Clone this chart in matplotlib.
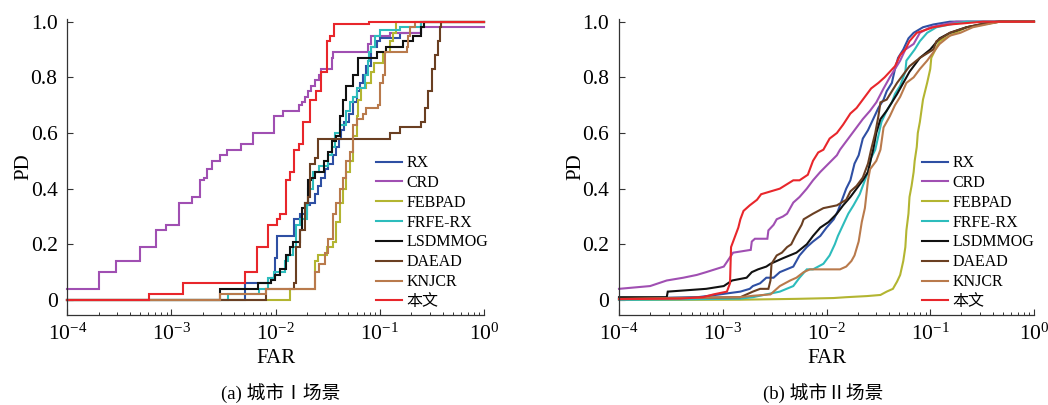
import numpy as np
import matplotlib
matplotlib.use("Agg")
import matplotlib.pyplot as plt
from matplotlib.ticker import LogLocator, LogFormatterMathtext, NullFormatter, FixedLocator

plt.rcParams['font.family'] = ['Liberation Serif', 'Noto Sans CJK SC']
plt.rcParams['mathtext.fontset'] = 'stix'
plt.rcParams['axes.unicode_minus'] = True

# ---- series names, colours ----
names = ['RX', 'CRD', 'FEBPAD', 'FRFE-RX', 'LSDMMOG', 'DAEAD', 'KNJCR', '本文']
colors = ['#2e4fa3', '#a04fb2', '#b3b531', '#2dbcbc', '#111111', '#6a3f22', '#b97a4c', '#e8262b']

# ---- (a) city I : log10(FAR) and PD ----
rx_a_log = [-4, -2.29, -2.04, -2.01, -1.99, -1.82, -1.77, -1.70, -1.67, -1.62, -1.59, -1.56, -1.53, -1.50, -1.45, -1.42, -1.39, -1.37, -1.34, -1.30, -1.26, -1.22, -1.19, -1.16, -1.13, -1.08, -1.03, -1.00, -0.81, -0.60, 0]
rx_a_pd = [0, 0.06, 0.08, 0.15, 0.23, 0.29, 0.31, 0.34, 0.35, 0.38, 0.41, 0.44, 0.47, 0.49, 0.52, 0.55, 0.58, 0.61, 0.64, 0.67, 0.71, 0.75, 0.78, 0.81, 0.84, 0.91, 0.93, 0.94, 0.96, 1.0, 1.0]

crd_a_log = [-4, -3.70, -3.53, -3.30, -3.15, -3.05, -2.93, -2.80, -2.73, -2.69, -2.66, -2.61, -2.53, -2.47, -2.33, -2.22, -2.02, -1.93, -1.78, -1.75, -1.72, -1.69, -1.66, -1.62, -1.58, -1.56, -1.46, -1.45, -1.11, -1.08, -0.90, -0.60, 0]
crd_a_pd = [0.04, 0.10, 0.14, 0.19, 0.25, 0.27, 0.35, 0.37, 0.43, 0.44, 0.47, 0.50, 0.52, 0.54, 0.56, 0.60, 0.66, 0.68, 0.70, 0.71, 0.73, 0.75, 0.77, 0.79, 0.81, 0.83, 0.87, 0.89, 0.92, 0.95, 0.96, 0.98, 0.98]

febpad_a_log = [-4, -1.86, -1.62, -1.59, -1.51, -1.45, -1.42, -1.38, -1.35, -1.32, -1.29, -1.26, -1.22, -1.21, -1.18, -1.13, -1.08, -1.06, -0.97, -0.90, -0.87, -0.84, 0]
febpad_a_pd = [0, 0.04, 0.14, 0.16, 0.19, 0.21, 0.28, 0.35, 0.40, 0.46, 0.50, 0.59, 0.66, 0.72, 0.76, 0.78, 0.82, 0.85, 0.89, 0.93, 0.96, 1.0, 1.0]

frfe_a_log = [-4, -2.46, -2.16, -2.07, -2.02, -1.91, -1.88, -1.83, -1.80, -1.77, -1.70, -1.69, -1.64, -1.58, -1.50, -1.46, -1.43, -1.38, -1.32, -1.29, -1.26, -1.22, -1.14, -1.11, -1.10, -1.08, -1.05, -1.00, -0.81, -0.60, 0]
frfe_a_pd = [0, 0.02, 0.04, 0.08, 0.10, 0.14, 0.16, 0.19, 0.27, 0.29, 0.34, 0.40, 0.46, 0.48, 0.52, 0.55, 0.60, 0.63, 0.68, 0.71, 0.73, 0.76, 0.81, 0.86, 0.89, 0.91, 0.95, 0.97, 0.98, 1.0, 1.0]

lsd_a_log = [-4, -2.53, -2.17, -2.04, -2.01, -1.96, -1.90, -1.86, -1.83, -1.77, -1.75, -1.72, -1.69, -1.66, -1.62, -1.54, -1.50, -1.46, -1.42, -1.38, -1.35, -1.32, -1.26, -1.21, -1.03, -0.94, -0.78, -0.68, -0.60, -0.58, 0]
lsd_a_pd = [0, 0.04, 0.06, 0.07, 0.09, 0.11, 0.16, 0.19, 0.21, 0.25, 0.33, 0.35, 0.43, 0.44, 0.46, 0.50, 0.53, 0.57, 0.59, 0.66, 0.72, 0.77, 0.81, 0.87, 0.89, 0.91, 0.93, 0.95, 0.98, 1.0, 1.0]

daead_a_log = [-4, -2.09, -1.82, -1.80, -1.77, -1.72, -1.69, -1.67, -1.62, -1.59, -0.90, -0.81, -0.60, -0.57, -0.54, -0.50, -0.47, -0.44, -0.42, -0.41, 0]
daead_a_pd = [0, 0.04, 0.06, 0.19, 0.25, 0.35, 0.37, 0.49, 0.51, 0.58, 0.60, 0.62, 0.64, 0.69, 0.75, 0.83, 0.88, 0.93, 0.98, 1.0, 1.0]

knjcr_a_log = [-4, -2.53, -2.09, -1.62, -1.58, -1.53, -1.50, -1.45, -1.42, -1.38, -1.35, -1.32, -1.29, -1.26, -1.22, -1.16, -1.13, -1.02, -1.00, -0.97, -0.95, -0.74, -0.73, -0.71, -0.66, 0]
knjcr_a_pd = [0, 0.02, 0.04, 0.10, 0.13, 0.17, 0.22, 0.31, 0.35, 0.40, 0.44, 0.50, 0.53, 0.63, 0.65, 0.67, 0.69, 0.70, 0.78, 0.81, 0.89, 0.91, 0.95, 0.98, 1.0, 1.0]

ours_a_log = [-4, -3.22, -2.89, -2.29, -2.18, -2.07, -1.99, -1.96, -1.90, -1.86, -1.82, -1.78, -1.74, -1.67, -1.61, -1.56, -1.51, -1.48, -1.44, -1.10, 0]
ours_a_pd = [0, 0.02, 0.06, 0.10, 0.19, 0.27, 0.29, 0.31, 0.43, 0.46, 0.54, 0.56, 0.64, 0.72, 0.75, 0.82, 0.93, 0.95, 0.99, 1.0, 1.0]

# ---- (b) city II : log10(FAR) and PD ----
rx_b_log = [-4, -3.24, -3.03, -2.83, -2.74, -2.71, -2.64, -2.58, -2.51, -2.45, -2.32, -2.26, -2.19, -2.13, -2.06, -2.00, -1.93, -1.89, -1.84, -1.81, -1.77, -1.73, -1.69, -1.65, -1.60, -1.55, -1.50, -1.45, -1.42, -1.37, -1.34, -1.31, -1.26, -1.21, -1.16, -1.07, -0.97, -0.81, 0]
rx_b_pd = [0.005, 0.01, 0.02, 0.03, 0.04, 0.05, 0.06, 0.08, 0.08, 0.10, 0.12, 0.16, 0.19, 0.21, 0.23, 0.26, 0.29, 0.32, 0.37, 0.40, 0.43, 0.49, 0.52, 0.58, 0.61, 0.65, 0.69, 0.72, 0.75, 0.78, 0.83, 0.87, 0.90, 0.94, 0.96, 0.98, 0.99, 1.0, 1.0]

crd_b_log = [-4, -3.70, -3.54, -3.38, -3.25, -3.16, -2.99, -2.90, -2.73, -2.72, -2.69, -2.57, -2.56, -2.51, -2.48, -2.42, -2.38, -2.32, -2.26, -2.19, -2.13, -2.06, -1.98, -1.90, -1.87, -1.77, -1.71, -1.65, -1.58, -1.52, -1.45, -1.39, -1.34, -1.29, -1.24, -1.16, -1.10, -1.00, -0.87, -0.75, 0]
crd_b_pd = [0.04, 0.05, 0.07, 0.08, 0.09, 0.10, 0.12, 0.17, 0.18, 0.21, 0.22, 0.22, 0.25, 0.27, 0.29, 0.30, 0.31, 0.35, 0.37, 0.40, 0.43, 0.46, 0.49, 0.52, 0.54, 0.59, 0.62, 0.65, 0.68, 0.71, 0.76, 0.80, 0.83, 0.86, 0.90, 0.92, 0.96, 0.98, 0.99, 1.0, 1.0]

febpad_b_log = [-4, -2.83, -2.29, -1.93, -1.81, -1.61, -1.48, -1.42, -1.36, -1.32, -1.29, -1.26, -1.24, -1.23, -1.21, -1.20, -1.18, -1.16, -1.15, -1.13, -1.12, -1.10, -1.07, -1.03, -1.00, -0.99, -0.95, -0.91, -0.81, -0.65, -0.49, -0.33, 0]
febpad_b_pd = [0.0, 0.001, 0.004, 0.007, 0.01, 0.014, 0.018, 0.03, 0.04, 0.066, 0.09, 0.14, 0.19, 0.25, 0.31, 0.37, 0.41, 0.46, 0.50, 0.55, 0.60, 0.64, 0.72, 0.78, 0.83, 0.87, 0.90, 0.93, 0.95, 0.98, 0.99, 1.0, 1.0]

frfe_b_log = [-4, -3.40, -2.83, -2.71, -2.58, -2.45, -2.32, -2.26, -2.19, -2.13, -2.03, -1.97, -1.92, -1.89, -1.84, -1.79, -1.74, -1.68, -1.65, -1.60, -1.57, -1.53, -1.50, -1.47, -1.42, -1.37, -1.34, -1.29, -1.24, -1.23, -1.21, -1.15, -1.10, -1.03, -0.94, -0.81, -0.65, 0]
frfe_b_pd = [0.0, 0.002, 0.005, 0.01, 0.02, 0.03, 0.05, 0.08, 0.11, 0.11, 0.13, 0.16, 0.20, 0.23, 0.27, 0.31, 0.34, 0.38, 0.41, 0.46, 0.51, 0.54, 0.59, 0.64, 0.68, 0.71, 0.74, 0.77, 0.82, 0.86, 0.87, 0.90, 0.93, 0.96, 0.98, 0.99, 1.0, 1.0]

lsd_b_log = [-4, -3.54, -3.53, -3.16, -2.99, -2.91, -2.77, -2.72, -2.66, -2.58, -2.54, -2.42, -2.29, -2.19, -2.13, -2.06, -1.98, -1.90, -1.84, -1.77, -1.71, -1.65, -1.60, -1.57, -1.55, -1.52, -1.48, -1.42, -1.37, -1.32, -1.26, -1.20, -1.10, -1.00, -0.91, -0.81, -0.65, -0.52, -0.33, 0]
lsd_b_pd = [0.01, 0.01, 0.03, 0.04, 0.05, 0.07, 0.08, 0.10, 0.11, 0.12, 0.13, 0.15, 0.17, 0.20, 0.23, 0.26, 0.28, 0.31, 0.34, 0.37, 0.40, 0.43, 0.46, 0.51, 0.54, 0.60, 0.65, 0.68, 0.71, 0.74, 0.78, 0.82, 0.87, 0.90, 0.94, 0.96, 0.98, 0.99, 1.0, 1.0]

daead_b_log = [-4, -2.83, -2.77, -2.71, -2.64, -2.56, -2.54, -2.53, -2.48, -2.43, -2.38, -2.34, -2.30, -2.24, -2.22, -2.13, -2.03, -1.90, -1.81, -1.77, -1.71, -1.65, -1.60, -1.57, -1.53, -1.50, -1.48, -1.42, -1.37, -1.32, -1.26, -1.20, -1.10, -0.97, -0.94, -0.81, -0.65, -0.52, -0.36, 0]
daead_b_pd = [0.005, 0.01, 0.02, 0.03, 0.04, 0.04, 0.07, 0.13, 0.16, 0.17, 0.19, 0.20, 0.23, 0.27, 0.29, 0.31, 0.33, 0.34, 0.36, 0.39, 0.41, 0.44, 0.49, 0.54, 0.60, 0.66, 0.71, 0.72, 0.75, 0.78, 0.81, 0.84, 0.87, 0.90, 0.93, 0.96, 0.98, 0.99, 1.0, 1.0]

knjcr_b_log = [-4, -2.83, -2.71, -2.54, -2.45, -2.35, -2.29, -2.22, -2.16, -2.03, -1.87, -1.81, -1.76, -1.73, -1.69, -1.66, -1.63, -1.60, -1.58, -1.52, -1.48, -1.45, -1.39, -1.34, -1.29, -1.23, -1.16, -1.10, -1.03, -0.97, -0.91, -0.81, -0.71, -0.59, -0.46, -0.33, 0]
knjcr_b_pd = [0.003, 0.01, 0.015, 0.02, 0.05, 0.07, 0.08, 0.10, 0.11, 0.11, 0.11, 0.12, 0.14, 0.16, 0.21, 0.28, 0.33, 0.43, 0.47, 0.50, 0.54, 0.62, 0.66, 0.70, 0.73, 0.78, 0.80, 0.83, 0.86, 0.89, 0.92, 0.95, 0.96, 0.98, 0.99, 1.0, 1.0]

ours_b_log = [-4, -3.41, -3.19, -3.09, -2.96, -2.93, -2.92, -2.87, -2.85, -2.83, -2.80, -2.77, -2.74, -2.67, -2.63, -2.54, -2.45, -2.32, -2.26, -2.18, -2.16, -2.13, -2.08, -2.03, -1.97, -1.90, -1.84, -1.77, -1.71, -1.65, -1.57, -1.50, -1.44, -1.39, -1.34, -1.29, -1.24, -1.20, -1.13, -0.97, -0.81, -0.49, 0]
ours_b_pd = [0.003, 0.005, 0.01, 0.02, 0.03, 0.06, 0.19, 0.24, 0.26, 0.29, 0.32, 0.33, 0.34, 0.36, 0.38, 0.39, 0.40, 0.43, 0.43, 0.45, 0.47, 0.50, 0.53, 0.54, 0.58, 0.60, 0.63, 0.67, 0.69, 0.72, 0.76, 0.78, 0.80, 0.82, 0.84, 0.88, 0.90, 0.93, 0.96, 0.98, 0.99, 1.0, 1.0]

yticks = [0, 0.2, 0.4, 0.6, 0.8, 1.0]
ytick_labels = ['0', '0.2', '0.4', '0.6', '0.8', '1.0']
captions = ['(a) 城市Ⅰ场景', '(b) 城市Ⅱ场景']

panel_a = [(rx_a_log, rx_a_pd), (crd_a_log, crd_a_pd), (febpad_a_log, febpad_a_pd),
           (frfe_a_log, frfe_a_pd), (lsd_a_log, lsd_a_pd), (daead_a_log, daead_a_pd),
           (knjcr_a_log, knjcr_a_pd), (ours_a_log, ours_a_pd)]
panel_b = [(rx_b_log, rx_b_pd), (crd_b_log, crd_b_pd), (febpad_b_log, febpad_b_pd),
           (frfe_b_log, frfe_b_pd), (lsd_b_log, lsd_b_pd), (daead_b_log, daead_b_pd),
           (knjcr_b_log, knjcr_b_pd), (ours_b_log, ours_b_pd)]

W, H = 1048, 405
fig = plt.figure(figsize=(W / 100, H / 100), dpi=100)

ax_bottom = 1 - 315 / H
ax_height = (315 - 18.9) / H
ax_a = fig.add_axes([67.3 / W, ax_bottom, (484 - 67.3) / W, ax_height])
ax_b = fig.add_axes([619 / W, ax_bottom, (1034 - 619) / W, ax_height])

legend_x = {ax_a: 0.742, ax_b: 0.730}
caption_x = {ax_a: 281 / W, ax_b: 823 / W}

for ax, series, steps in ((ax_a, panel_a, True), (ax_b, panel_b, False)):
    for (lx, pdv), name, col in zip(series, names, colors):
        far = 10.0 ** np.asarray(lx)
        ax.plot(far, pdv, color=col, lw=1.5, label=name,
                drawstyle='steps-post' if steps else 'default', clip_on=False,
                solid_joinstyle='miter')
    ax.set_xscale('log')
    ax.set_xlim(1e-4, 1)
    ax.set_ylim(-0.054, 1.01)
    ax.xaxis.set_major_locator(FixedLocator([1e-4, 1e-3, 1e-2, 1e-1, 1]))
    ax.xaxis.set_major_formatter(LogFormatterMathtext())
    ax.xaxis.set_minor_locator(LogLocator(base=10, subs=np.arange(2, 10), numticks=20))
    ax.xaxis.set_minor_formatter(NullFormatter())
    ax.set_yticks(yticks)
    ax.set_yticklabels(ytick_labels)
    ax.tick_params(which='major', direction='in', length=4.5, width=0.8, labelsize=15.5,
                   color='#333333')
    ax.tick_params(which='minor', direction='in', length=2.5, width=0.7, color='#333333')
    ax.tick_params(axis='y', which='major', pad=7)
    ax.tick_params(axis='x', which='major', pad=6)
    for s in ('top', 'right'):
        ax.spines[s].set_visible(False)
    for s in ('left', 'bottom'):
        ax.spines[s].set_linewidth(0.9)
        ax.spines[s].set_color('#333333')
    ax.set_xlabel('FAR', fontsize=15, labelpad=3)
    ax.set_ylabel('PD', fontsize=15, labelpad=-2)
    ax.legend(loc='upper left', bbox_to_anchor=(legend_x[ax], 0.54), frameon=False,
              fontsize=11.5, handlelength=1.6, handletextpad=0.3,
              labelspacing=0.24, borderpad=0, borderaxespad=0)

for ax, cap in zip((ax_a, ax_b), captions):
    fig.text(caption_x[ax], 1 - 393 / H, cap, ha='center', va='center', fontsize=13.5)

fig.savefig('out.png', dpi=100)
